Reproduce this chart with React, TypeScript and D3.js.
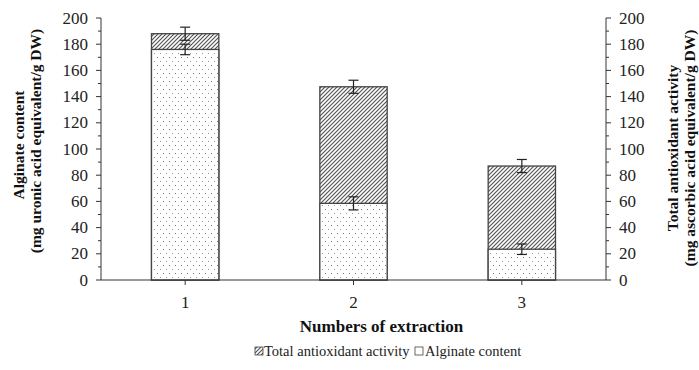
import React from "react";
import * as d3 from "d3";

const categories = ["1", "2", "3"];
const alginate = [176, 58.5, 23.5];
const alginateErr = [4, 5, 4];
const antioxidant = [188, 147.5, 87];
const antioxidantErr = [5, 5, 5];
const yTicks = [0, 20, 40, 60, 80, 100, 120, 140, 160, 180, 200];
const minorTicks = d3.range(10, 200, 20);

const W = 699;
const H = 370;
const left = 101;
const right = 606;
const top = 18;
const bottom = 280;
const font = "'Liberation Serif', 'Times New Roman', serif";
const stroke = "#444";

export default function App() {
  const x = d3.scaleBand<string>().domain(categories).range([left, right]).paddingInner(0.6).paddingOuter(0.3);
  const y = d3.scaleLinear().domain([0, 200]).range([bottom, top]);
  const bw = x.bandwidth();

  const errBar = (cx: number, v: number, e: number, key: string) => (
    <g key={key} stroke="#222" strokeWidth={1.2}>
      <line x1={cx} x2={cx} y1={y(v + e)} y2={y(v - e)} />
      <line x1={cx - 5} x2={cx + 5} y1={y(v + e)} y2={y(v + e)} />
      <line x1={cx - 5} x2={cx + 5} y1={y(v - e)} y2={y(v - e)} />
    </g>
  );

  return (
    <svg width={W} height={H} style={{ position: "absolute", left: 0, top: 0, background: "#fff" }} fontFamily={font}>
      <defs>
        <pattern id="dots" width={6} height={8} patternUnits="userSpaceOnUse">
          <rect width={6} height={8} fill="#fff" />
          <rect x={1} y={1} width={1} height={1} fill="#777" />
          <rect x={4} y={5} width={1} height={1} fill="#999" />
        </pattern>
        <pattern id="hatch" width={4} height={4} patternUnits="userSpaceOnUse">
          <rect width={4} height={4} fill="#fff" />
          <path d="M-1,1 l2,-2 M0,4 l4,-4 M3,5 l2,-2" stroke="#555" strokeWidth={1.2} />
        </pattern>
      </defs>

      {/* bars: antioxidant total behind, alginate in front */}
      {categories.map((c, i) => (
        <g key={c}>
          <rect x={x(c)} y={y(antioxidant[i])} width={bw} height={y(0) - y(antioxidant[i])} fill="url(#hatch)" stroke={stroke} strokeWidth={1.3} />
          <rect x={x(c)} y={y(alginate[i])} width={bw} height={y(0) - y(alginate[i])} fill="url(#dots)" stroke={stroke} strokeWidth={1.3} />
        </g>
      ))}
      {categories.map((c, i) => errBar(x(c)! + bw / 2, antioxidant[i], antioxidantErr[i], "a" + c))}
      {categories.map((c, i) => errBar(x(c)! + bw / 2, alginate[i], alginateErr[i], "b" + c))}

      {/* axes */}
      <g stroke="#333" strokeWidth={1}>
        <line x1={left} x2={left} y1={top} y2={bottom} />
        <line x1={right} x2={right} y1={top} y2={bottom} />
        <line x1={left} x2={right} y1={bottom} y2={bottom} />
        {yTicks.map((t) => (
          <g key={t}>
            <line x1={left - 5} x2={left} y1={y(t)} y2={y(t)} />
            <line x1={right} x2={right + 5} y1={y(t)} y2={y(t)} />
          </g>
        ))}
        {minorTicks.map((t) => (
          <g key={t}>
            <line x1={left - 3} x2={left} y1={y(t)} y2={y(t)} />
            <line x1={right} x2={right + 3} y1={y(t)} y2={y(t)} />
          </g>
        ))}
        {categories.map((c) => (
          <line key={c} x1={x(c)! + bw / 2} x2={x(c)! + bw / 2} y1={bottom} y2={bottom + 5} />
        ))}
      </g>

      <g fontSize={17} fill="#222">
        {yTicks.map((t) => (
          <g key={t}>
            <text x={left - 13} y={y(t)} textAnchor="end" dominantBaseline="central">{t}</text>
            <text x={right + 13} y={y(t)} textAnchor="start" dominantBaseline="central">{t}</text>
          </g>
        ))}
        {categories.map((c) => (
          <text key={c} x={x(c)! + bw / 2} y={bottom + 22} textAnchor="middle" dominantBaseline="central">{c}</text>
        ))}
      </g>

      <text x={(left + right) / 2 + 28} y={326} textAnchor="middle" dominantBaseline="central" fontSize={17} fontWeight="bold" fill="#111">
        Numbers of extraction
      </text>

      <g fontSize={15.5} fontWeight="bold" fill="#111" textAnchor="middle" dominantBaseline="central">
        <text transform="translate(18,145) rotate(-90)">Alginate content</text>
        <text transform="translate(35,141) rotate(-90)">(mg uronic acid equivalent/g DW)</text>
        <text transform="translate(672,148) rotate(-90)">Total antioxidant activity</text>
        <text transform="translate(689,148) rotate(-90)">(mg ascorbic acid equivalent/g DW)</text>
      </g>

      {/* legend */}
      <g fontSize={14.5} fill="#222">
        <rect x={255} y={347} width={8} height={8} fill="url(#hatch)" stroke={stroke} strokeWidth={0.8} />
        <text x={264} y={351} dominantBaseline="central">Total antioxidant activity</text>
        <rect x={415} y={347} width={8} height={8} fill="#fff" stroke={stroke} strokeWidth={0.8} />
        <text x={425} y={351} dominantBaseline="central">Alginate content</text>
      </g>
    </svg>
  );
}
